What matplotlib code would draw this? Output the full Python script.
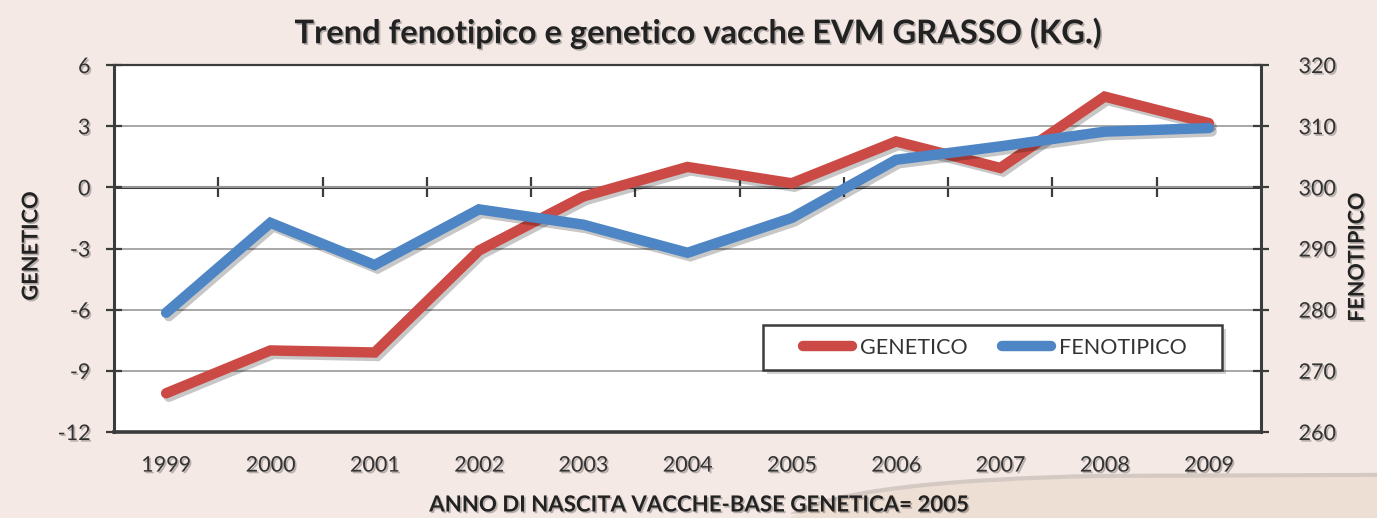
import matplotlib
matplotlib.use("Agg")
import matplotlib.pyplot as plt
import matplotlib.patheffects as pe
from matplotlib.path import Path
from matplotlib.patches import PathPatch, Rectangle
import numpy as np

years = ["1999", "2000", "2001", "2002", "2003", "2004", "2005", "2006", "2007", "2008", "2009"]
genetico = [-10.1, -8.0, -8.1, -3.1, -0.45, 1.0, 0.2, 2.25, 0.95, 4.45, 3.15]
fenotipico = [279.5, 294.2, 287.3, 296.4, 293.9, 289.3, 295.0, 304.5, 306.7, 309.1, 309.7]
left_ticks = [-12, -9, -6, -3, 0, 3, 6]
right_ticks = [260, 270, 280, 290, 300, 310, 320]

title = "Trend fenotipico e genetico vacche EVM GRASSO (KG.)"
xlabel = "ANNO DI NASCITA VACCHE-BASE GENETICA= 2005"
ylabel_left = "GENETICO"
ylabel_right = "FENOTIPICO"

FONT = "Lato"
plt.rcParams['font.family'] = [FONT, 'DejaVu Sans']
plt.rcParams['axes.unicode_minus'] = False

RED = "#CC4A45"
BLUE = "#4D85C5"
BG = "#F4E9E5"
DARK = "#3c3c3c"
TXT = "#333333"
TICKFS = 15.5

W, H = 1377, 518
fig = plt.figure(figsize=(W / 100, H / 100), dpi=100)
fig.patch.set_facecolor(BG)

# decorative swoosh bottom right
verts = [(790, H), (830, 492), (950, 481), (1100, 478),
         (1377, 477), (W, H), (790, H)]
codes = [Path.MOVETO, Path.CURVE4, Path.CURVE4, Path.CURVE4,
         Path.LINETO, Path.LINETO, Path.CLOSEPOLY]
verts_fig = [(vx / W, 1 - vy / H) for vx, vy in verts]
sw = PathPatch(Path(verts_fig, codes), transform=fig.transFigure,
               facecolor="#EEDFD5", edgecolor="none", zorder=0)
sw.set_path_effects([pe.SimplePatchShadow(offset=(0, 3), shadow_rgbFace="#b8aaa4", alpha=0.5), pe.Normal()])
fig.patches.append(sw)

txt_shadow = [pe.SimplePatchShadow(offset=(1.2, -1.2), shadow_rgbFace="#000000", alpha=0.25), pe.Normal()]

left, right, top, bottom = 114, 1261, 65, 432
ax = fig.add_axes([left / W, 1 - bottom / H, (right - left) / W, (bottom - top) / H])
ax.set_facecolor("white")
ax2 = ax.twinx()

x = np.arange(len(years))
line_shadow = [pe.SimpleLineShadow(offset=(2, -2.5), shadow_color="#000000", alpha=0.22), pe.Normal()]
l1, = ax.plot(x, genetico, color=RED, lw=7.5, solid_joinstyle="miter", solid_capstyle="round",
              label=ylabel_left, zorder=3, path_effects=line_shadow)
l2, = ax2.plot(x, fenotipico, color=BLUE, lw=7.5, solid_joinstyle="miter", solid_capstyle="round",
               label=ylabel_right, zorder=3, path_effects=line_shadow)

ax.set_xlim(-0.5, len(years) - 0.5)
ax.set_ylim(left_ticks[0], left_ticks[-1])
ax2.set_ylim(right_ticks[0], right_ticks[-1])
ax.set_yticks(left_ticks)
ax2.set_yticks(right_ticks)
ax.set_xticks(x, years)

ax.yaxis.grid(True, color="#a0a0a0", lw=1.3, zorder=0)
ax.set_axisbelow(True)

for s in ["left", "bottom", "top"]:
    ax.spines[s].set_color(DARK)
ax.spines["left"].set_linewidth(2.2)
ax.spines["bottom"].set_linewidth(2.6)
ax.spines["top"].set_linewidth(1.6)
ax.spines["right"].set_visible(False)
for s in ["left", "bottom", "top"]:
    ax2.spines[s].set_visible(False)
ax2.spines["right"].set_color(DARK)
ax2.spines["right"].set_linewidth(2.2)

ax.tick_params(axis="x", length=0, pad=17, labelsize=TICKFS, labelcolor=TXT)
ax.tick_params(axis="y", direction="inout", length=12, width=1.6, color=DARK, pad=11,
               labelsize=TICKFS, labelcolor=TXT)
ax2.tick_params(axis="y", direction="inout", length=12, width=1.6, color=DARK, pad=21,
                labelsize=TICKFS, labelcolor=TXT)
for lab in ax.get_xticklabels() + ax.get_yticklabels() + ax2.get_yticklabels():
    lab.set_path_effects(txt_shadow)

# horizontal axis crossing at 0 with category boundary ticks
zero_frac = (0 - left_ticks[0]) / (left_ticks[-1] - left_ticks[0])
sec = ax.secondary_xaxis(zero_frac)
sec.set_xticks(x[:-1] + 0.5)
sec.set_xticklabels([])
sec.tick_params(axis="x", direction="inout", length=14, width=1.6, color=DARK)
sec.spines["bottom"].set_color(DARK)
sec.spines["bottom"].set_linewidth(2.2)
sec.spines["top"].set_color(DARK)
sec.spines["top"].set_linewidth(2.2)

# legend box (frame drawn separately)
bx0, bx1, by0, by1 = 763, 1222, 325, 370
to_ax = lambda px, py: ((px - left) / (right - left), (bottom - py) / (bottom - top))
(fx0, fy0) = to_ax(bx0, by1)
(fx1, fy1) = to_ax(bx1, by0)
frame = Rectangle((fx0, fy0), fx1 - fx0, fy1 - fy0, transform=ax.transAxes,
                  facecolor="white", edgecolor=DARK, lw=1.8, zorder=6)
frame.set_path_effects([pe.SimplePatchShadow(offset=(3, -3), alpha=0.25), pe.Normal()])
ax.add_patch(frame)

leg = ax.legend([l1, l2], [ylabel_left, ylabel_right], loc="center",
                bbox_to_anchor=((fx0 + fx1) / 2 + 0.002, (fy0 + fy1) / 2),
                ncol=2, fontsize=TICKFS, frameon=False,
                handlelength=2.3, handletextpad=0.35, columnspacing=1.6, borderpad=0.0,
                labelcolor=TXT)
for h in leg.legend_handles:
    h.set_path_effects([pe.Normal()])
leg.set_zorder(7)

fig.text(698 / W, 1 - 33 / H, title, ha="center", va="center", fontsize=23.5, fontweight="bold",
         color="#222222", path_effects=txt_shadow)
fig.text(699 / W, 1 - 505 / H, xlabel, ha="center", va="center", fontsize=16, fontweight="bold",
         color="#222222", path_effects=txt_shadow)
fig.text(31 / W, 1 - 246 / H, ylabel_left, ha="center", va="center", rotation=90, fontsize=15.7,
         fontweight="bold", color="#222222", path_effects=txt_shadow)
fig.text(1357 / W, 1 - 257 / H, ylabel_right, ha="center", va="center", rotation=90, fontsize=15.5,
         fontweight="bold", color="#222222", path_effects=txt_shadow)

fig.savefig("out.png", dpi=100, facecolor=BG)
